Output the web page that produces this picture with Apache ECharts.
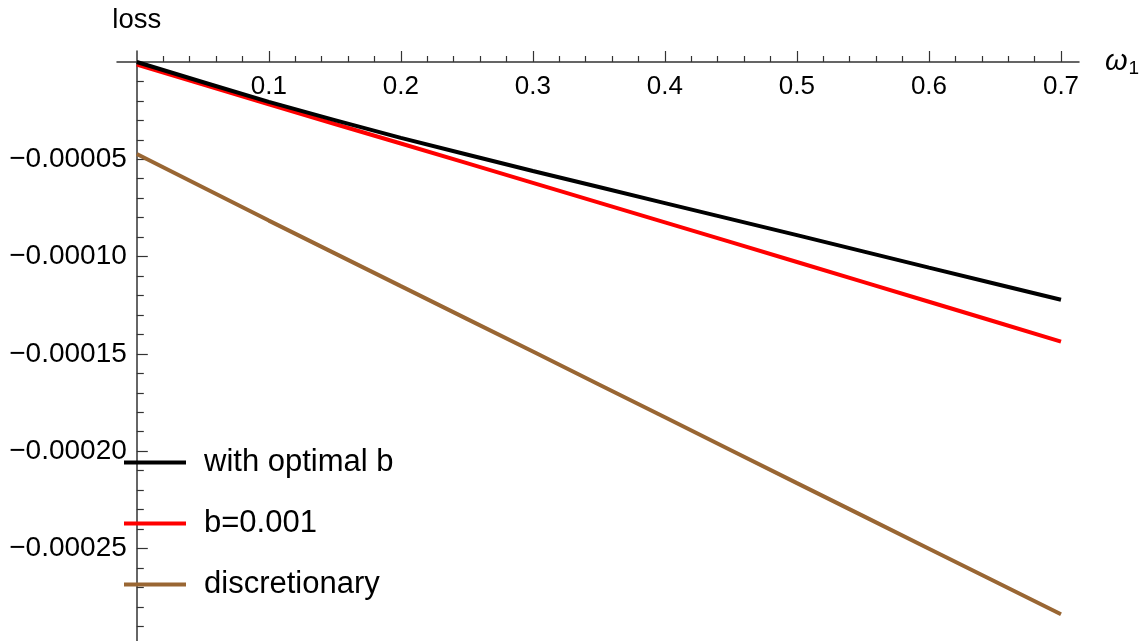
<!DOCTYPE html>
<html>
<head>
<meta charset="utf-8">
<script src="https://cdn.jsdelivr.net/npm/echarts@6/dist/echarts.min.js"></script>
<style>
  html, body { margin: 0; padding: 0; background: #fff; }
  #chart { width: 1145px; height: 641px; }
</style>
</head>
<body>
<div id="chart"></div>
<script>
// ω1 sample positions and the loss of each strategy at those points
const omega = [0, 0.1, 0.2, 0.3, 0.4, 0.5, 0.6, 0.7];
const lossOptimalB = [0, -0.0000205, -0.0000390, -0.0000560, -0.0000725, -0.0000890, -0.0001057, -0.0001222];
const lossFixedB = [-0.0000013, -0.0000218, -0.0000419, -0.0000621, -0.0000824, -0.0001028, -0.0001232, -0.0001437];
const lossDiscretionary = [-0.0000473, -0.0000815, -0.0001152, -0.0001488, -0.0001826, -0.0002164, -0.0002501, -0.0002838];

const seriesNames = ['with optimal b', 'b=0.001', 'discretionary'];
const seriesColors = ['#000000', '#ff0000', '#996633'];

// labelled ticks
const xMajorTicks = [0.1, 0.2, 0.3, 0.4, 0.5, 0.6, 0.7];
const yMajorTicks = [-0.00005, -0.0001, -0.00015, -0.0002, -0.00025];

// full extents of the axis lines (they run a little past the origin and the data)
const xRange = [-0.015, 0.71364];
const yRange = [-0.00029755, 0.00000565];

// unlabelled minor ticks: every 0.02 on ω1, every 0.00001 on loss
const xMinorTicks = [];
for (let i = 1; i <= 35; i++) {
  if (i % 5 !== 0) xMinorTicks.push(+(i * 0.02).toFixed(2));
}
const yMinorTicks = [];
for (let i = 1; i <= 29; i++) {
  if (i % 5 !== 0) yMinorTicks.push(-i * 0.00001);
}

const FONT = "'Liberation Sans', Arial, sans-serif";
const AXIS_COLOR = '#333';

// outer frame of the axes (pixels)
const OUTER = { left: 117, right: 66, top: 51, bottom: 0 };
const W = 1145, H = 641;
const outerW = W - OUTER.left - OUTER.right;
const outerH = H - OUTER.top - OUTER.bottom;
// the plotting grid starts where the axes cross (ω1 = 0, loss = 0)
const innerLeft = OUTER.left + (0 - xRange[0]) / (xRange[1] - xRange[0]) * outerW;
const innerTop = OUTER.top + (yRange[1] - 0) / (yRange[1] - yRange[0]) * outerH;

function pairs(ys) { return omega.map((x, i) => [x, ys[i]]); }

const tickLine = { color: AXIS_COLOR, width: 1.2 };

const chart = echarts.init(document.getElementById('chart'), null, { renderer: 'canvas' });

chart.setOption({
  animation: false,
  backgroundColor: '#fff',
  textStyle: { fontFamily: FONT },
  grid: [
    { left: innerLeft, right: OUTER.right, top: innerTop, bottom: OUTER.bottom, containLabel: false, outerBoundsMode: 'none' },
    { left: OUTER.left, right: OUTER.right, top: OUTER.top, bottom: OUTER.bottom, containLabel: false, outerBoundsMode: 'none' }
  ],
  xAxis: [
    {
      gridIndex: 0, type: 'value', min: 0, max: xRange[1], position: 'top',
      axisLine: { show: false, onZero: false },
      axisTick: { show: true, inside: false, length: 11, customValues: xMajorTicks, lineStyle: tickLine },
      axisLabel: {
        show: true, inside: true, customValues: xMajorTicks, margin: 12,
        color: '#000', fontSize: 26, fontFamily: FONT,
        formatter: v => v.toFixed(1)
      },
      splitLine: { show: false }
    },
    {
      gridIndex: 0, type: 'value', min: 0, max: xRange[1], position: 'top',
      axisLine: { show: false, onZero: false },
      axisTick: { show: true, inside: false, length: 6, customValues: xMinorTicks, lineStyle: tickLine },
      axisLabel: { show: false },
      splitLine: { show: false }
    },
    {
      gridIndex: 1, type: 'value', min: xRange[0], max: xRange[1], position: 'bottom',
      axisLine: { show: true, onZero: true, lineStyle: { color: AXIS_COLOR, width: 1.5 } },
      axisTick: { show: false },
      axisLabel: { show: false },
      splitLine: { show: false },
      name: '{w|ω}{s|1}', nameLocation: 'end', nameGap: 26,
      nameTextStyle: {
        rich: {
          w: { fontSize: 29, fontStyle: 'italic', color: '#000', fontFamily: FONT },
          s: { fontSize: 19, color: '#000', fontFamily: FONT, padding: [14, 0, 0, 1] }
        }
      }
    }
  ],
  yAxis: [
    {
      gridIndex: 0, type: 'value', min: yRange[0], max: 0, position: 'left',
      axisLine: { show: false, onZero: false },
      axisTick: { show: true, inside: true, length: 11, customValues: yMajorTicks, lineStyle: tickLine },
      axisLabel: {
        show: true, customValues: yMajorTicks, margin: 10,
        color: '#000', fontSize: 28, fontFamily: FONT,
        formatter: v => '\u2212' + Math.abs(v).toFixed(5)
      },
      splitLine: { show: false }
    },
    {
      gridIndex: 0, type: 'value', min: yRange[0], max: 0, position: 'left',
      axisLine: { show: false, onZero: false },
      axisTick: { show: true, inside: true, length: 7, customValues: yMinorTicks, lineStyle: tickLine },
      axisLabel: { show: false },
      splitLine: { show: false }
    },
    {
      gridIndex: 1, type: 'value', min: yRange[0], max: yRange[1], position: 'left',
      axisLine: { show: true, onZero: true, lineStyle: { color: AXIS_COLOR, width: 1.5 } },
      axisTick: { show: false },
      axisLabel: { show: false },
      splitLine: { show: false },
      name: 'loss', nameLocation: 'end', nameGap: 17,
      nameTextStyle: { color: '#000', fontSize: 27.5, fontFamily: FONT }
    }
  ],
  legend: {
    orient: 'vertical', left: 124, top: 447, padding: 0,
    itemWidth: 62, itemHeight: 4, itemGap: 30, icon: 'rect',
    selectedMode: false,
    textStyle: { fontSize: 31, lineHeight: 30, color: '#000', fontFamily: FONT, padding: [0, 0, 0, 13] },
    data: seriesNames
  },
  series: [lossOptimalB, lossFixedB, lossDiscretionary].map((ys, i) => ({
    name: seriesNames[i],
    type: 'line',
    xAxisIndex: 0, yAxisIndex: 0,
    data: pairs(ys),
    showSymbol: false,
    symbol: 'none',
    smooth: 0.2,
    clip: false,
    color: seriesColors[i],
    lineStyle: { color: seriesColors[i], width: 4 },
    z: 5 - i
  }))
});
</script>
</body>
</html>
